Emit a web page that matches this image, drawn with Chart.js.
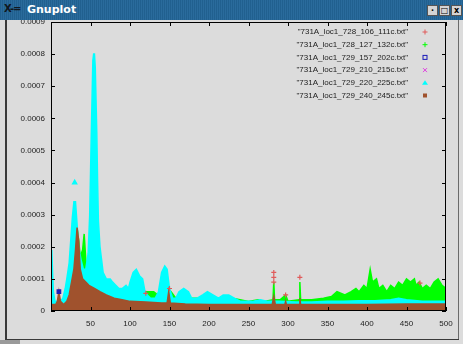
<!DOCTYPE html>
<html>
<head>
<meta charset="utf-8">
<script src="https://cdn.jsdelivr.net/npm/chart.js@4.4.0/dist/chart.umd.min.js"></script>
<style>
html, body { margin: 0; padding: 0; background: #dcdcdc; }
#win { position: relative; width: 463px; height: 344px; overflow: hidden; background: #dcdcdc; }
#bar { position: absolute; left: 0; top: 0; width: 463px; height: 20px; z-index: 2;
  background: repeating-linear-gradient(90deg, #21608f 0px, #21608f 1px, #2a6b9c 1px, #2a6b9c 2px);
  font-family: 'DejaVu Sans', sans-serif; }
#bar .icon { position: absolute; left: 4px; top: 3px; font-size: 10px; color: #101820; font-weight: bold; letter-spacing: -1px; }
#bar .title { position: absolute; left: 27px; top: 3px; font-size: 11px; color: #fff; font-weight: bold; }
#bar .btn { position: absolute; top: 5px; width: 9px; height: 9px; background: #d4d4d4; border: 1px solid #555;
  font-size: 8px; line-height: 9px; text-align: center; color: #000; font-weight: bold; }
#frameL { position: absolute; left: 5px; top: 20px; width: 2px; height: 320px; background: #3a3a3a; z-index: 2; }
#frameR { position: absolute; left: 458px; top: 20px; width: 1px; height: 320px; background: #6a6a6a; z-index: 2; }
#frameB { position: absolute; left: 5px; top: 339px; width: 454px; height: 1px; background: #3a3a3a; z-index: 2; }
#tab { position: absolute; left: 0px; top: 340px; width: 20px; height: 4px; background: #9a9a9a; z-index: 2; }
canvas { position: absolute; left: 0; top: 0; }
</style>
</head>
<body>
<div id="win">
  <div id="bar">
    <span class="icon">X-=</span>
    <span class="title">Gnuplot</span>
    <span class="btn" style="left:427px">&middot;</span>
    <span class="btn" style="left:439px">&#9633;</span>
    <span class="btn" style="left:451px">x</span>
  </div>
  <div id="frameL"></div><div id="frameR"></div><div id="frameB"></div><div id="tab"></div>
  <canvas id="plot" width="463" height="344"></canvas>
</div>
<script>
// series names as in the gnuplot key
const seriesNames = [
  '"731A_loc1_728_106_111c.txt"',
  '"731A_loc1_728_127_132c.txt"',
  '"731A_loc1_729_157_202c.txt"',
  '"731A_loc1_729_210_215c.txt"',
  '"731A_loc1_729_220_225c.txt"',
  '"731A_loc1_729_240_245c.txt"'
];
const seriesColors = ['#e05a5a', '#00ff00', '#1a1ab8', '#e040e0', '#00ffff', '#a0522d'];
const seriesMarks = ['cross', 'cross', 'rect', 'crossRot', 'triangle', 'rectRot'];

const xTicks = [50, 100, 150, 200, 250, 300, 350, 400, 450, 500];
const yTicks = [0, 0.0001, 0.0002, 0.0003, 0.0004, 0.0005, 0.0006, 0.0007, 0.0008, 0.0009];

// red: isolated points
const redX = [120, 150, 282, 282, 282, 297, 315, 467];
const redY = [0.000055, 0.00007, 0.00012, 0.000105, 0.00009, 0.00005, 0.000105, 0.000087];

// green envelope
const greenX = [0, 20, 28, 31, 33, 35, 37, 40, 42, 44, 47, 55, 65, 80, 100, 115, 120, 125, 130, 135, 140, 148, 152, 158,
  170, 200, 230, 250, 262, 270, 281, 282, 283, 290, 297, 300, 314, 315, 316, 330, 345, 355, 362, 372, 380, 386, 390,
  396, 400, 404, 407, 412, 415, 420, 425, 430, 435, 440, 445, 450, 455, 460, 462, 466, 470, 475, 480, 485, 490, 495, 500];
const greenY = [0.00002, 0.00004, 0.00012, 0.00018, 0.00026, 0.00022, 0.00017, 0.00019, 0.00024, 0.00016, 0.0001,
  0.00008, 0.00007, 0.00005, 0.00005, 0.00005, 0.00006, 0.00006, 0.00006, 0.00005, 0.00004, 0.00007, 0.00006, 0.00004,
  0.00004, 0.00004, 0.00004, 0.00003, 0.000035, 0.00003, 0.000035, 0.00009, 0.000035, 0.000035, 0.00005, 0.00003,
  0.000035, 0.00009, 0.000035, 0.000035, 0.00004, 0.000045, 0.00006, 0.00005, 0.00006, 0.00007, 0.00006,
  0.00008, 0.00007, 0.00013, 0.00009, 0.0001, 0.00007, 0.00008, 0.00006, 0.00008, 0.00007, 0.00009, 0.00008, 0.0001,
  0.00009, 0.0001, 0.00008, 0.00009, 0.00007, 0.00008, 0.00007, 0.00009, 0.0001, 0.00008, 0.00007];

// blue: isolated points
const blueX = [10];
const blueY = [0.00006];

// magenta: low points, mostly hidden
const magentaX = [0, 500];
const magentaY = [0.00001, 0.00001];

// cyan envelope
const cyanX = [0, 1, 2, 3, 5, 8, 10, 12, 15, 18, 20, 23, 25, 27, 29, 31, 33, 35, 38, 41, 44, 47, 49, 51, 53, 54, 55, 56,
  58, 59, 60, 62, 64, 66, 70, 75, 78, 82, 86, 90, 95, 98, 100, 104, 108, 112, 116, 119, 122, 126, 132, 136, 140, 144,
  147, 150, 154, 158, 162, 168, 174, 178, 185, 192, 198, 205, 212, 218, 225, 232, 240, 255, 265, 275, 290, 310, 330,
  350, 370, 390, 410, 430, 440, 450, 470, 490, 500];
const cyanY = [0.00018, 0.00019, 0.00012, 0.00006, 0.00003, 0.00003, 0.00004, 0.00003, 0.00004, 0.00007, 0.0001,
  0.00015, 0.00022, 0.00029, 0.00034, 0.00034, 0.00027, 0.0002, 0.00016, 0.00013, 0.00013, 0.00018, 0.0003, 0.00055,
  0.00078, 0.0008, 0.0008, 0.00076, 0.00055, 0.0004, 0.00028, 0.0002, 0.00016, 0.00012, 0.0001, 0.0001, 0.00009,
  0.00008, 0.00007, 0.00007, 0.00008, 0.00007, 0.00009, 0.00012, 0.00013, 0.00011, 0.0001, 0.00006, 0.00005, 0.00004,
  0.00004, 0.00006, 0.00012, 0.00014, 0.00013, 0.00007, 0.00004, 0.00004, 0.00006, 0.00007, 0.00006, 0.00004, 0.00004,
  0.00005, 0.00006, 0.00005, 0.00004, 0.00005, 0.00005, 0.00004, 0.00003, 0.00003, 0.000035, 0.00003, 0.00003,
  0.000028, 0.000028, 0.00003, 0.00003, 0.000032, 0.000032, 0.000035, 0.00004, 0.000035, 0.00003, 0.00003, 0.00003];
const cyanPtX = [30];
const cyanPtY = [0.0004];

// brown envelope
const brownX = [0, 6, 8, 10, 12, 16, 20, 23, 26, 29, 31, 33, 35, 37, 40, 44, 48, 55, 62, 70, 80, 90, 100, 120, 140, 147,
  149, 151, 170, 200, 250, 280, 282, 284, 296, 297, 298, 314, 315, 316, 350, 400, 450, 500];
const brownY = [0.00002, 0.00002, 0.00003, 0.00006, 0.00003, 0.00002, 0.00003, 0.00005, 0.00009, 0.00013, 0.00019,
  0.00026, 0.00022, 0.00013, 0.0001, 0.00009, 0.00008, 0.00007, 0.00006, 0.00005, 0.00004, 0.000035, 0.00003,
  0.000028, 0.000025, 0.000025, 0.00006, 0.000025, 0.000022, 0.00002, 0.00002, 0.00002, 0.000045, 0.00002, 0.00002,
  0.00003, 0.00002, 0.00002, 0.00004, 0.00002, 0.00002, 0.00002, 0.000022, 0.000022];

function pts(xs, ys) {
  return xs.map((x, i) => ({ x: x, y: ys[i] }));
}

function area(xs, ys, color, order) {
  return {
    data: pts(xs, ys),
    showLine: true,
    fill: 'origin',
    backgroundColor: color,
    borderColor: color,
    borderWidth: 1.5,
    pointRadius: 0,
    tension: 0,
    order: order
  };
}

function dots(xs, ys, color, style, order) {
  return {
    data: pts(xs, ys),
    showLine: false,
    pointStyle: style,
    pointRadius: 2.5,
    borderColor: color,
    backgroundColor: color,
    borderWidth: 1.2,
    order: order
  };
}

const FONT = "8px 'Liberation Sans', Arial, sans-serif";

const gnuplotFrame = {
  id: 'gnuplotFrame',
  afterDatasetsDraw(chart) {
    const { ctx, chartArea: a, scales } = chart;
    const xs = scales.x, ys = scales.y;
    ctx.save();
    ctx.strokeStyle = '#000';
    ctx.lineWidth = 1;
    ctx.strokeRect(Math.round(a.left) + 0.5, Math.round(a.top) + 0.5,
      Math.round(a.right - a.left) - 1, Math.round(a.bottom - a.top) - 1);
    ctx.beginPath();
    xTicks.forEach(v => {
      const px = Math.round(xs.getPixelForValue(v)) + 0.5;
      ctx.moveTo(px, a.bottom); ctx.lineTo(px, a.bottom - 4);
      ctx.moveTo(px, a.top); ctx.lineTo(px, a.top + 4);
    });
    yTicks.forEach(v => {
      const py = Math.round(ys.getPixelForValue(v)) + 0.5;
      ctx.moveTo(a.left, py); ctx.lineTo(a.left + 4, py);
      ctx.moveTo(a.right, py); ctx.lineTo(a.right - 4, py);
    });
    ctx.stroke();

    // key, top right inside the plot
    ctx.font = FONT;
    ctx.textAlign = 'right';
    ctx.textBaseline = 'middle';
    seriesNames.forEach((name, i) => {
      const y = 32 + i * 12.7;
      ctx.fillStyle = '#222';
      ctx.fillText(name, 408, y);
      const mx = 425;
      ctx.strokeStyle = seriesColors[i];
      ctx.fillStyle = seriesColors[i];
      ctx.lineWidth = 1;
      ctx.beginPath();
      const m = seriesMarks[i];
      if (m === 'cross') {
        ctx.moveTo(mx - 2.5, y); ctx.lineTo(mx + 2.5, y);
        ctx.moveTo(mx, y - 2.5); ctx.lineTo(mx, y + 2.5);
        ctx.stroke();
      } else if (m === 'rect') {
        ctx.strokeRect(mx - 2, y - 2, 4, 4);
      } else if (m === 'crossRot') {
        ctx.moveTo(mx - 2, y - 2); ctx.lineTo(mx + 2, y + 2);
        ctx.moveTo(mx + 2, y - 2); ctx.lineTo(mx - 2, y + 2);
        ctx.stroke();
      } else if (m === 'triangle') {
        ctx.moveTo(mx, y - 2.5); ctx.lineTo(mx + 3, y + 2); ctx.lineTo(mx - 3, y + 2);
        ctx.closePath(); ctx.fill();
      } else {
        ctx.fillRect(mx - 2, y - 2, 4, 4);
      }
    });
    ctx.restore();
  }
};

new Chart(document.getElementById('plot').getContext('2d'), {
  type: 'scatter',
  data: {
    datasets: [
      dots(redX, redY, seriesColors[0], 'cross', 0),
      area(greenX, greenY, seriesColors[1], 5),
      dots(blueX, blueY, seriesColors[2], 'rect', 0),
      area(magentaX, magentaY, seriesColors[3], 4),
      area(cyanX, cyanY, seriesColors[4], 2),
      dots(cyanPtX, cyanPtY, seriesColors[4], 'triangle', 2),
      area(brownX, brownY, seriesColors[5], 1)
    ]
  },
  options: {
    responsive: false,
    animation: false,
    layout: { padding: { left: 8, right: 17, top: 22, bottom: 8 } },
    plugins: { legend: { display: false }, tooltip: { enabled: false } },
    scales: {
      x: {
        type: 'linear', min: 0, max: 500,
        afterBuildTicks: s => { s.ticks = xTicks.map(v => ({ value: v })); },
        afterFit: s => { s.height = 25; },
        grid: { display: false, drawTicks: false },
        border: { display: false },
        ticks: { padding: 8, color: '#222', font: { family: "'Liberation Sans', Arial, sans-serif", size: 8 },
          maxRotation: 0, autoSkip: false, callback: v => String(v) }
      },
      y: {
        type: 'linear', min: 0, max: 0.0009,
        afterBuildTicks: s => { s.ticks = yTicks.map(v => ({ value: v })); },
        afterFit: s => { s.width = 43; },
        grid: { display: false, drawTicks: false },
        border: { display: false },
        ticks: { padding: 6, color: '#222', font: { family: "'Liberation Sans', Arial, sans-serif", size: 8 },
          autoSkip: false, callback: v => (v === 0 ? '0' : v.toFixed(4)) }
      }
    }
  },
  plugins: [gnuplotFrame]
});
</script>
</body>
</html>
